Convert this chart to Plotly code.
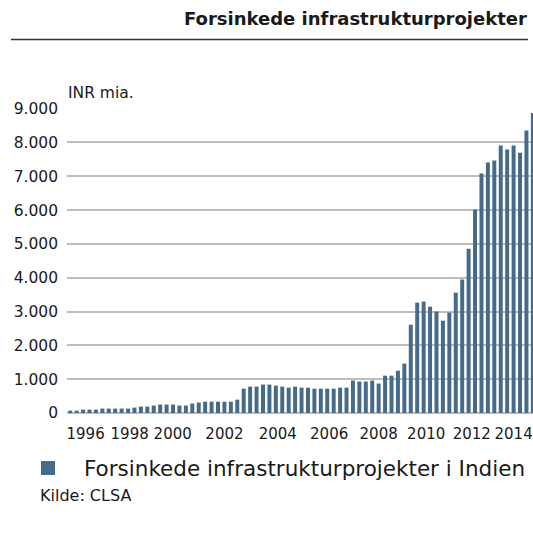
import plotly.graph_objects as go

values = [70, 70, 100, 100, 100, 130, 130, 130, 130, 130, 160, 190, 190, 220, 250, 250, 250, 220, 220, 280,
          310, 335, 335, 335, 335, 335, 395,
          720, 780, 780, 840, 840, 810, 780, 750, 780, 750, 750, 720, 720, 720, 720, 750, 750, 960, 930,
          930, 960, 870, 1105, 1105, 1250,
          1460, 2610, 3265, 3295, 3145, 3000, 2730, 2970, 3560, 3945, 4860, 6015, 7080, 7405, 7465, 7910,
          7790, 7910, 7700, 8355, 8875]
periods = list(range(len(values)))

year_labels = ["1996", "1998", "2000", "2002", "2004", "2006", "2008", "2010", "2012", "2014"]
year_pos = [2.4, 9.25, 15.95, 24.0, 32.3, 40.3, 48.0, 55.4, 62.5, 69.0]

y_ticks = [0, 1000, 2000, 3000, 4000, 5000, 6000, 7000, 8000, 9000]

series_name = "Forsinkede infrastrukturprojekter i Indien"
title = "Forsinkede infrastrukturprojekter"
unit = "INR mia."
source = "Kilde: CLSA"

bar_color = "#466b8a"
font_family = "DejaVu Sans"

fig = go.Figure()
fig.add_trace(go.Bar(x=periods, y=values, name=series_name, marker_color=bar_color,
                     marker_line_width=0, showlegend=False))

fig.update_layout(
    width=533, height=558,
    margin=dict(l=67, r=0, t=108, b=145),
    paper_bgcolor="white", plot_bgcolor="white",
    bargap=0.38,
    separators=",.",
    font=dict(family=font_family, color="#1a1a1a", size=15),
    xaxis=dict(range=[-0.5, 72.02], tickmode="array", tickvals=year_pos, ticktext=year_labels,
               showgrid=False, zeroline=False, showline=False, ticks="",
               tickfont=dict(size=15, color="#1a1a1a"), ticklabelstandoff=10),
    yaxis=dict(range=[0, 9020], tickmode="array", tickvals=y_ticks, tickformat=",d",
               showgrid=True, gridcolor="#bdbdbd", gridwidth=1.5,
               zeroline=True, zerolinecolor="#bdbdbd", zerolinewidth=1.5,
               showline=False, ticks="", tickfont=dict(size=15.5, color="#1a1a1a"),
               ticklabelstandoff=8),
)

# Title and rule
fig.add_annotation(xref="paper", yref="paper", x=(529 - 67) / 466, y=1 + (108 - 18) / 305,
                   text="<b>" + title + "</b>", showarrow=False, xanchor="right", yanchor="middle",
                   font=dict(size=18, color="#1a1a1a"))
fig.add_shape(type="line", xref="paper", yref="paper",
              x0=(11 - 67) / 466, x1=(528 - 67) / 466,
              y0=1 + (108 - 39.5) / 305, y1=1 + (108 - 39.5) / 305,
              line=dict(color="#333333", width=1.5))

# Unit label
fig.add_annotation(xref="paper", yref="paper", x=(66 - 67) / 466, y=1 + (108 - 93) / 305,
                   text=unit, showarrow=False, xanchor="left", yanchor="middle",
                   font=dict(size=15.5, color="#1a1a1a"))

# Legend (custom)
fig.add_shape(type="rect", xref="paper", yref="paper",
              x0=(41 - 67) / 466, x1=(55 - 67) / 466,
              y0=-(461 - 413) / 305, y1=-(475 - 413) / 305,
              fillcolor=bar_color, line_width=0)
fig.add_annotation(xref="paper", yref="paper", x=(82 - 67) / 466, y=-(468 - 413) / 305,
                   text=series_name, showarrow=False, xanchor="left", yanchor="middle",
                   font=dict(size=21.5, color="#1a1a1a"))

# Source
fig.add_annotation(xref="paper", yref="paper", x=(38 - 67) / 466, y=-(495 - 413) / 305,
                   text=source, showarrow=False, xanchor="left", yanchor="middle",
                   font=dict(size=16, color="#1a1a1a"))

fig.write_html("out.html", config={"displayModeBar": False},
               post_script="document.body.style.margin='0';")
